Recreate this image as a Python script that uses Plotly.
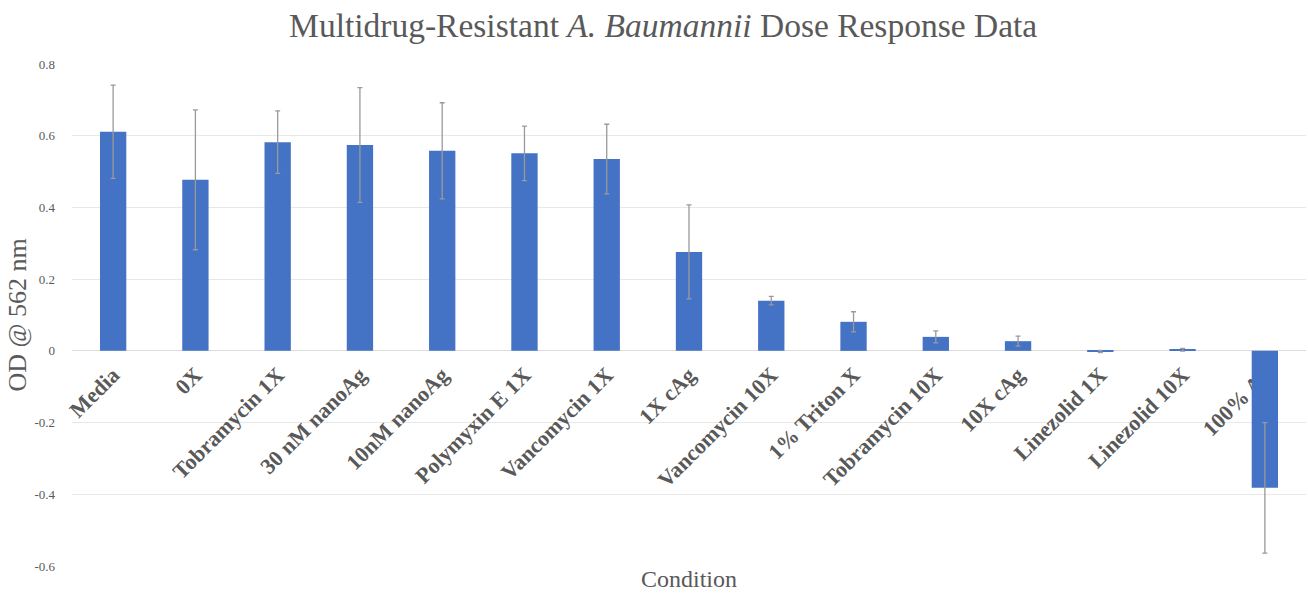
import plotly.graph_objects as go

categories = ["Media", "0X", "Tobramycin 1X", "30 nM nanoAg", "10nM nanoAg",
              "Polymyxin E 1X", "Vancomycin 1X", "1X cAg", "Vancomycin 10X",
              "1% Triton X", "Tobramycin 10X", "10X cAg", "Linezolid 1X",
              "Linezolid 10X", "100% Ag"]
od_values = [0.611, 0.477, 0.582, 0.574, 0.558, 0.551, 0.535, 0.276, 0.140,
             0.081, 0.039, 0.027, -0.002, 0.003, -0.382]
od_errors = [0.130, 0.195, 0.087, 0.160, 0.134, 0.076, 0.097, 0.131, 0.012,
             0.028, 0.017, 0.014, 0.003, 0.004, 0.182]

y_tickvals = [-0.6, -0.4, -0.2, 0, 0.2, 0.4, 0.6, 0.8]
y_ticktext = ["-0.6", "-0.4", "-0.2", "0", "0.2", "0.4", "0.6", "0.8"]

y_min, y_max = -0.6, 0.8
gray = "#595959"
serif = "Liberation Serif, Times New Roman, serif"

fig = go.Figure()
fig.add_trace(go.Bar(
    x=categories, y=od_values,
    marker=dict(color="#4472C4", line=dict(width=0)),
    error_y=dict(type="data", array=od_errors, visible=True,
                 color="#9a9a9a", thickness=1.3, width=2.5),
    width=0.32,
))

fig.update_layout(
    width=1308, height=594,
    margin=dict(l=72, r=2, t=64, b=28),
    paper_bgcolor="white", plot_bgcolor="white",
    showlegend=False,
    title=dict(text="Multidrug-Resistant <i>A. Baumannii</i> Dose Response Data",
               x=0.507, xref="container", y=0.958, yref="container",
               xanchor="center", yanchor="middle",
               font=dict(family=serif, size=33.5, color=gray)),
    xaxis=dict(
        anchor="free", position=(0 - y_min) / (y_max - y_min),
        tickangle=-45, showgrid=False, showline=False, zeroline=False,
        ticks="", automargin=False, layer="below traces", ticklabelstandoff=6,
        tickfont=dict(family=serif, size=22, color=gray, weight="bold"),
    ),
    yaxis=dict(
        range=[y_min, y_max], tickvals=y_tickvals, ticktext=y_ticktext,
        showgrid=True, gridcolor="#e8e8e8", gridwidth=1,
        zeroline=True, zerolinecolor="#dcdcdc", zerolinewidth=1,
        showline=False, ticks="", ticklabelstandoff=16, automargin=False,
        tickfont=dict(family=serif, size=13, color=gray),
        title=dict(text="OD @ 562 nm", standoff=0,
                   font=dict(family=serif, size=26, color=gray)),
    ),
    annotations=[dict(text="Condition", x=0.5, xref="paper", y=-0.026, yref="paper",
                      xanchor="center", yanchor="middle", showarrow=False,
                      font=dict(family=serif, size=24, color=gray))],
)

fig.write_html("out.html", config={"displayModeBar": False},
               post_script="document.body.style.margin='0';document.body.style.overflow='hidden';")
